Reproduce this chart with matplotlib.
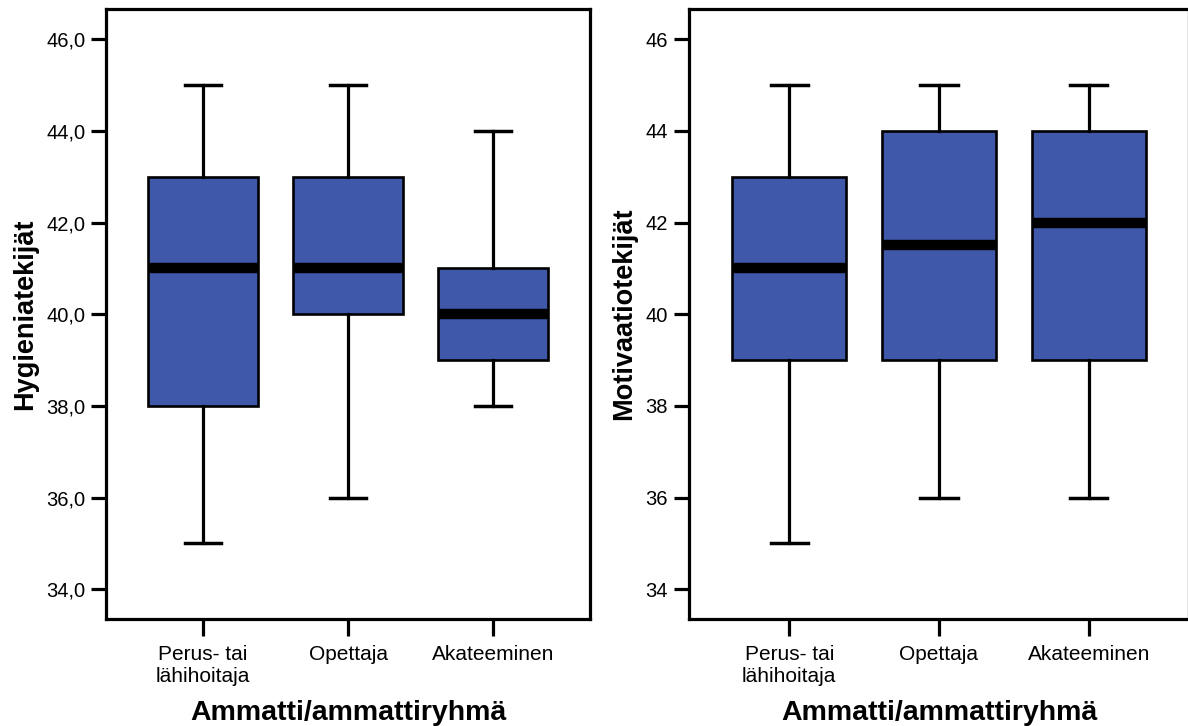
import matplotlib
matplotlib.use("Agg")
import matplotlib.pyplot as plt

plt.rcParams['font.family'] = ['Liberation Sans', 'DejaVu Sans']

categories = ["Perus- tai\nlähihoitaja", "Opettaja", "Akateeminen"]

# Hygieniatekijät: whisker low, Q1, median, Q3, whisker high
hyg_low = [35, 36, 38]
hyg_q1 = [38, 40, 39]
hyg_med = [41, 41, 40]
hyg_q3 = [43, 43, 41]
hyg_high = [45, 45, 44]

# Motivaatiotekijät
mot_low = [35, 36, 36]
mot_q1 = [39, 39, 39]
mot_med = [41, 41.5, 42]
mot_q3 = [43, 44, 44]
mot_high = [45, 45, 45]

yticks = [34, 36, 38, 40, 42, 44, 46]
ylabels_left = ["34,0", "36,0", "38,0", "40,0", "42,0", "44,0", "46,0"]
ylabels_right = ["34", "36", "38", "40", "42", "44", "46"]

box_color = "#3f58a9"

fig = plt.figure(figsize=(11.88, 7.26), dpi=100)
ax1 = fig.add_axes([106/1188, 1-619/726, 484/1188, 610/726])
ax2 = fig.add_axes([689/1188, 1-619/726, 500/1188, 610/726])


def draw(ax, low, q1, med, q3, high, ylabels, ylab):
    stats = []
    for lo, a, m, b, hi in zip(low, q1, med, q3, high):
        stats.append(dict(whislo=lo, q1=a, med=m, q3=b, whishi=hi, fliers=[]))
    ax.bxp(stats, positions=[1, 2, 3], widths=0.76, patch_artist=True,
           showfliers=False,
           boxprops=dict(facecolor=box_color, edgecolor="black", linewidth=1.9),
           medianprops=dict(color="black", linewidth=7.5, solid_capstyle="butt"),
           whiskerprops=dict(color="black", linewidth=2.3),
           capprops=dict(color="black", linewidth=2.5),
           capwidths=0.25)
    ax.set_xlim(0.33, 3.67)
    ax.set_ylim(33.35, 46.66)
    ax.set_yticks(yticks)
    ax.set_yticklabels(ylabels)
    ax.set_xticks([1, 2, 3])
    ax.set_xticklabels(categories, linespacing=1.2)
    for s in ax.spines.values():
        s.set_linewidth(2.3)
    ax.tick_params(axis="y", length=11, width=2.3, labelsize=14.5, pad=4)
    ax.tick_params(axis="x", length=12, width=2.3, labelsize=15, pad=6.5)
    ax.set_xlabel("Ammatti/ammattiryhmä", fontsize=20.5, fontweight="bold", labelpad=10)
    ax.set_ylabel(ylab, fontsize=19.5, fontweight="bold", labelpad=6)


draw(ax1, hyg_low, hyg_q1, hyg_med, hyg_q3, hyg_high, ylabels_left, "Hygieniatekijät")
draw(ax2, mot_low, mot_q1, mot_med, mot_q3, mot_high, ylabels_right, "Motivaatiotekijät")

fig.savefig("out.png", dpi=100)
